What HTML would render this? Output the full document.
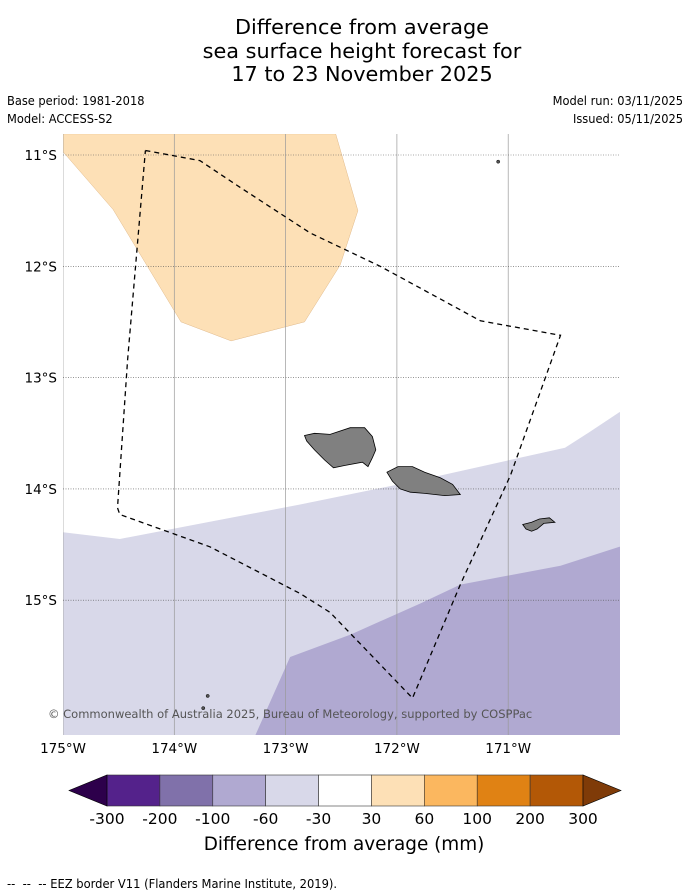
<!DOCTYPE html>
<html><head><meta charset="utf-8"><style>
html,body{margin:0;padding:0;background:#fff;}
svg{display:block;font-family:"DejaVu Sans","Liberation Sans",sans-serif;}
.sm{font-family:"DejaVu Sans Condensed","DejaVu Sans","Liberation Sans",sans-serif;font-stretch:condensed;font-size:12.7px;}
</style></head><body>
<svg id="chart" width="690" height="896" viewBox="0 0 690 896">
<g font-size="20.8" text-anchor="middle" fill="#000">
<text x="362" y="34">Difference from average</text>
<text x="362" y="58">sea surface height forecast for</text>
<text x="362" y="81">17 to 23 November 2025</text>
</g>
<text class="sm" x="7" y="105">Base period: 1981-2018</text>
<text class="sm" x="7" y="123">Model: ACCESS-S2</text>
<text class="sm" x="683" y="105" text-anchor="end">Model run: 03/11/2025</text>
<text class="sm" x="683" y="123" text-anchor="end">Issued: 05/11/2025</text>
<defs><clipPath id="mapclip"><rect x="63" y="134" width="557" height="601"/></clipPath></defs>
<g id="map" clip-path="url(#mapclip)"></g>
<text x="48" y="718" font-size="11.5" fill="#555">© Commonwealth of Australia 2025, Bureau of Meteorology, supported by COSPPac</text>
<g id="axes"></g>
<g id="cbar"></g>
<text x="344" y="850" font-size="18.4" text-anchor="middle">Difference from average (mm)</text>
<text class="sm" x="7" y="888" style="font-size:12.8px">-- &#160;-- &#160;-- EEZ border V11 (Flanders Marine Institute, 2019).</text>
</svg>
<script>
// axis domain
const lonTicks=[-175,-174,-173,-172,-171];
const lonLabels=["175°W","174°W","173°W","172°W","171°W"];
const latTicks=[-11,-12,-13,-14,-15];
const latLabels=["11°S","12°S","13°S","14°S","15°S"];
// colorbar data
const levelLabels=["-300","-200","-100","-60","-30","30","60","100","200","300"];
const levelColors=["#54228b","#8071aa","#b0a9d1","#d8d8e9","#ffffff","#fde0b6","#fbb75f","#e08214","#b35806"];
const extendColors=["#2d004b","#7f3b08"];
// map regions (lon, lat)
const posRegion=[[-175,-10.81],[-175,-10.97],[-174.55,-11.49],[-173.94,-12.50],[-173.49,-12.67],[-172.83,-12.50],[-172.51,-11.99],[-172.35,-11.50],[-172.55,-10.81]];
const negLightRegion=[[-175,-14.39],[-174.49,-14.45],[-172.87,-14.14],[-171.79,-13.92],[-170.49,-13.63],[-170.27,-13.49],[-170.0,-13.31],[-169.9,-13.31],[-169.9,-16.3],[-175,-16.3]];
const negMidRegion=[[-173.27,-16.3],[-173.27,-16.21],[-172.96,-15.51],[-172.42,-15.31],[-171.79,-15.03],[-171.43,-14.86],[-170.53,-14.69],[-170.0,-14.52],[-169.9,-14.52],[-169.9,-16.3]];
const eez=[[-174.26,-10.96],[-173.77,-11.05],[-173.41,-11.29],[-172.78,-11.70],[-172.15,-12.00],[-171.25,-12.49],[-170.53,-12.62],[-170.98,-13.88],[-171.43,-14.86],[-171.86,-15.88],[-172.60,-15.11],[-172.87,-14.94],[-173.68,-14.52],[-174.49,-14.23],[-174.51,-14.17],[-174.42,-12.84],[-174.26,-10.96]];
const savaii=[[-172.83,-13.52],[-172.74,-13.50],[-172.60,-13.51],[-172.42,-13.45],[-172.29,-13.45],[-172.22,-13.53],[-172.19,-13.65],[-172.22,-13.72],[-172.26,-13.80],[-172.31,-13.76],[-172.47,-13.79],[-172.57,-13.81],[-172.65,-13.74],[-172.74,-13.65],[-172.81,-13.57]];
const upolu=[[-172.09,-13.85],[-171.99,-13.80],[-171.86,-13.80],[-171.75,-13.85],[-171.61,-13.90],[-171.50,-13.96],[-171.43,-14.05],[-171.57,-14.06],[-171.75,-14.04],[-171.88,-14.03],[-171.97,-14.00],[-172.04,-13.93]];
const tutuila=[[-170.87,-14.32],[-170.79,-14.30],[-170.72,-14.27],[-170.63,-14.26],[-170.58,-14.30],[-170.68,-14.31],[-170.74,-14.36],[-170.79,-14.38],[-170.84,-14.36]];
const islets=[[-171.09,-11.06],[-173.70,-15.86],[-173.74,-15.97]];

const NS="http://www.w3.org/2000/svg";
const X=lon=>63+(lon+175)*111.3;
const Y=lat=>155+(-11-lat)*111.3;
function mk(tag,attrs,parent){const e=document.createElementNS(NS,tag);for(const k in attrs)e.setAttribute(k,attrs[k]);parent.appendChild(e);return e;}
function pts(a){return a.map(p=>X(p[0]).toFixed(1)+","+Y(p[1]).toFixed(1)).join(" ");}
const map=document.getElementById("map"),axes=document.getElementById("axes"),cbar=document.getElementById("cbar");

let e;
e=mk("polygon",{points:pts(posRegion),fill:"#fde0b6",stroke:"#e0b98a","stroke-width":0.5},map);


e=mk("polygon",{points:pts(negLightRegion),fill:"#d8d8e9"},map);


e=mk("polygon",{points:pts(negMidRegion),fill:"#b0a9d1"},map);



lonTicks.forEach((t,i)=>{
  const l=mk("line",{x1:X(t),x2:X(t),y1:134,y2:735,stroke:"#999","stroke-width":0.7},map);
  
  
  const tx=mk("text",{x:X(t),y:753,"font-size":13.5,"text-anchor":"middle"},axes);
  tx.textContent=lonLabels[i];
  
  
});
latTicks.forEach((t,i)=>{
  const l=mk("line",{x1:63,x2:620,y1:Y(t),y2:Y(t),stroke:"#555","stroke-width":0.6,"stroke-dasharray":"1,1.5"},map);
  
  
  const tx=mk("text",{x:57,y:Y(t)+5,"font-size":13.5,"text-anchor":"end"},axes);
  tx.textContent=latLabels[i];
  
  
});
[["savaii-island",savaii],["upolu-island",upolu],["tutuila-island",tutuila]].forEach(([n,a])=>{
  const p=mk("polygon",{points:pts(a),fill:"#808080",stroke:"#000","stroke-width":0.8},map);
  
  
});
islets.forEach(p=>{
  const c=mk("circle",{cx:X(p[0]),cy:Y(p[1]),r:1.6,fill:"#555",stroke:"#000","stroke-width":0.5},map);
  
  
});
e=mk("polyline",{points:pts(eez),fill:"none",stroke:"#000","stroke-width":1.3,"stroke-dasharray":"5,4"},map);



// colorbar
const cbX0=107,cbX1=583,cbY0=775,cbY1=806;
const segW=(cbX1-cbX0)/levelColors.length;
levelColors.forEach((c,i)=>{
  const r=mk("rect",{x:cbX0+i*segW,y:cbY0,width:segW,height:cbY1-cbY0,fill:c,stroke:"#333","stroke-width":0.6},cbar);
  
  
});
e=mk("polygon",{points:`${cbX0},${cbY0} ${cbX0},${cbY1} 69,${(cbY0+cbY1)/2}`,fill:extendColors[0],stroke:"#000","stroke-width":0.6},cbar);


e=mk("polygon",{points:`${cbX1},${cbY0} ${cbX1},${cbY1} 621,${(cbY0+cbY1)/2}`,fill:extendColors[1],stroke:"#000","stroke-width":0.6},cbar);


levelLabels.forEach((t,i)=>{
  const tx=mk("text",{x:cbX0+i*segW,y:824,"font-size":15.5,"text-anchor":"middle"},cbar);
  tx.textContent=t;
  
  
});
</script>
</body></html>
